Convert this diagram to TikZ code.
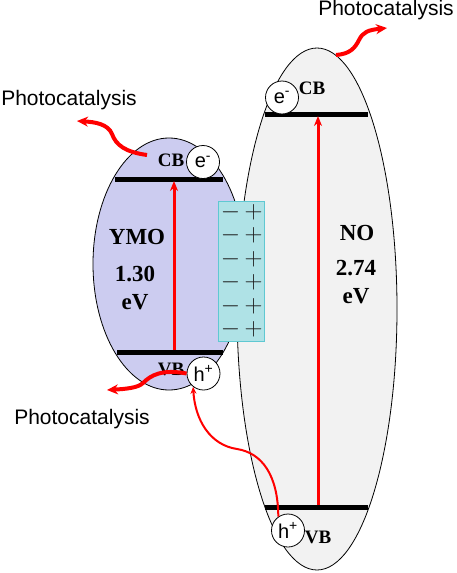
\documentclass[tikz,border=0pt]{standalone}
\usepackage{fontspec}
\setmainfont{Liberation Serif}
\newfontfamily\sansfont{Liberation Sans}
\usetikzlibrary{arrows.meta}
\definecolor{ymofill}{RGB}{204,204,240}
\definecolor{nofill}{RGB}{242,242,242}
\definecolor{field}{RGB}{175,226,230}
\definecolor{fieldline}{RGB}{95,200,210}
\definecolor{sign}{RGB}{30,30,30}

\begin{document}
\begin{tikzpicture}[
    x=1pt, y=-1pt,
    band/.style={line width=5pt},
    gap/.style={line width=3pt, draw=red, -{Stealth[length=10pt, width=8pt]}},
    wave/.style={line width=4pt, draw=red, -{Stealth[length=11pt, width=10pt]}},
    transfer/.style={line width=2pt, draw=red, -{Stealth[length=7pt, width=6pt]}},
    carrier/.style={circle, draw=black, fill=white, line width=.8pt,
        minimum size=33pt, inner sep=0pt, font=\sansfont\fontsize{20}{20}\selectfont},
    bandname/.style={font=\bfseries\fontsize{19}{19}\selectfont, inner sep=0pt},
    material/.style={font=\bfseries\fontsize{23}{23}\selectfont, inner sep=0pt},
    outcome/.style={font=\sansfont\fontsize{21}{21}\selectfont, inner sep=0pt},
    charge/.style={text=sign, font=\fontsize{24}{24}\selectfont, inner sep=0pt},
]
    \useasboundingbox (0,0) rectangle (457,573);

    %% the two semiconductors
    \filldraw[fill=nofill, draw=black, line width=.8pt] (317,309)
        ellipse [x radius=80, y radius=261];
    \filldraw[fill=ymofill, draw=black, line width=.8pt] (169,264)
        ellipse [x radius=76, y radius=126];

    %% the built-in field at the interface
    \filldraw[fill=field, draw=fieldline, line width=.8pt]
        (218,201) rectangle (264,341);
    \foreach \y in {212, 235.5, ..., 331}{
        \node[charge] at (230.5,\y) {$-$};
        \node[charge] at (253.5,\y) {$+$};
    }

    %% band edges
    \draw[band] (115,179) -- (223,179);
    \draw[band] (117,352) -- (223,352);
    \draw[band] (265,114) -- (368,114);
    \draw[band] (265,507) -- (368,507);
    \coordinate (ymo-vb) at (174,350);
    \coordinate (ymo-cbline) at (174,181);
    \coordinate (no-vb) at (318,505);
    \coordinate (no-cbline) at (318,116);
    \draw[gap] (ymo-vb) -- (ymo-cbline);
    \draw[gap] (no-vb) -- (no-cbline);

    %% labels
    \node[bandname] (ymo-cb) at (171,160) {CB};
    \node[bandname] (ymo-vbname) at (171,369) {VB};
    \node[bandname] (no-cb) at (312,88) {CB};
    \node[bandname] (no-vbname) at (318,537) {VB};
    \node[material] (ymo-name) at (137,237) {YMO};
    \node[material] (ymo-gap) at (135,274) {1.30};
    \node[material] (ymo-unit) at (135,302) {eV};
    \node[material] (no-name) at (357,233) {NO};
    \node[material] (no-gap) at (356,268) {2.74};
    \node[material] (no-unit) at (356,296) {eV};

    %% electrons and holes
    \node[carrier] (ymo-e) at (203,162) {e\textsuperscript{-}};
    \node[carrier] (ymo-h) at (203.5,373.5) {h\textsuperscript{+}};
    \node[carrier] (no-e) at (282,97.5) {e\textsuperscript{-}};
    \node[carrier] (no-h) at (288,530.5) {h\textsuperscript{+}};

    %% where the carriers go
    \node[outcome] (pc-top) at (386,10) {Photocatalysis};
    \node[outcome] (pc-left) at (69,100) {Photocatalysis};
    \node[outcome] (pc-bottom) at (82,419) {Photocatalysis};
    \coordinate (no-edge) at (336,55);
    \coordinate (top-end) at (387,28);
    \coordinate (cb-start) at (147,155);
    \coordinate (left-end) at (77,121);
    \coordinate (bottom-end) at (107,390);
    \draw[wave] (no-edge) .. controls (350,54) and (355,48) .. (359,40)
        .. controls (363,32) and (368,30) .. (top-end);
    \draw[wave] (cb-start) .. controls (125,152) and (116,145) .. (112,134)
        .. controls (108,124) and (95,122) .. (left-end);
    \draw[wave] (ymo-h.west) .. controls (162,369) and (151,375) .. (143,383)
        .. controls (138,388) and (125,389) .. (bottom-end);
    \draw[transfer] (no-h.125) .. controls (278,475) and (262,453) .. (237,449)
        .. controls (210,445) and (195,420) .. (ymo-h.232);
\end{tikzpicture}
\end{document}
